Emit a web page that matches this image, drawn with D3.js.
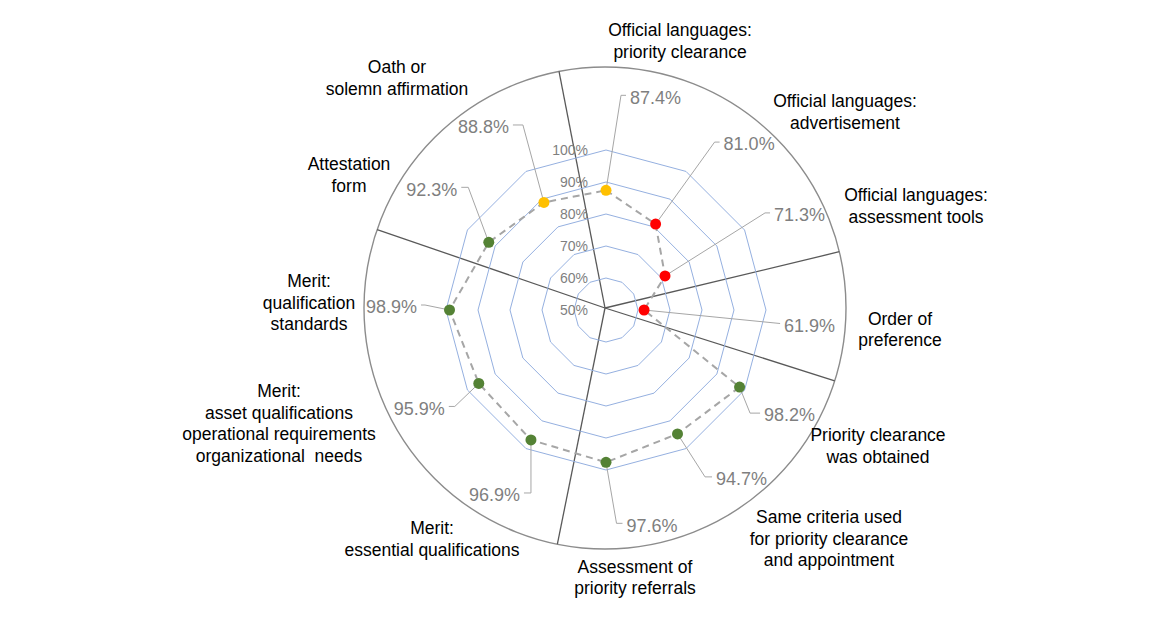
<!DOCTYPE html>
<html><head><meta charset="utf-8">
<script src="https://cdn.jsdelivr.net/npm/d3@7"></script>
<style>body{margin:0;background:#fff} svg{display:block}</style>
</head><body>
<svg id="chart" width="1170" height="620"></svg>
<script>
// ---- data ----
const categories = [
  ["Official languages:", "priority clearance"],
  ["Official languages:", "advertisement"],
  ["Official languages:", "assessment tools"],
  ["Order of", "preference"],
  ["Priority clearance", "was obtained"],
  ["Same criteria used", "for priority clearance", "and appointment"],
  ["Assessment of", "priority referrals"],
  ["Merit:", "essential qualifications"],
  ["Merit:", "asset qualifications", "operational requirements", "organizational  needs"],
  ["Merit:", "qualification", "standards"],
  ["Attestation", "form"],
  ["Oath or", "solemn affirmation"]
];
const values = [87.4, 81.0, 71.3, 61.9, 98.2, 94.7, 97.6, 96.9, 95.9, 98.9, 92.3, 88.8];
const statuses = ["mid", "low", "low", "low", "high", "high", "high", "high", "high", "high", "high", "mid"];
const tickValues = [50, 60, 70, 80, 90, 100];
const tickLabels = ["50%", "60%", "70%", "80%", "90%", "100%"];
const sectionBoundaries = [-11, 76.5, 107.6, 191.4, 289]; // degrees, clockwise from north

// ---- layout (positions / styles) ----
const W = 1170, H = 620;
const cx = 606, cy = 310;
const pieCx = 605, pieCy = 308, pieR = 241;
const statusColor = {high: "#548235", mid: "#FFC000", low: "#FF0000"};
// leader elbow offset from point [dx, dy, tail]
const valueLabelLayout = [
  [15, -95, 5], [59, -82, 5], [100, -63, 5], [136, 13.5, 0],
  [10.5, 26, 10], [27.5, 43, 7], [10.5, 61, 6], [0, 53, -7],
  [-24, 23, -6], [-24.5, -5, -4], [-20.5, -55, -7], [-21, -77.5, -10]
];
const valueLabelSide = [1, 1, 1, 1, 1, 1, 1, -1, -1, -1, -1, -1];
// category label first-line centre, offset from chart centre
const catLabelLayout = [
  [74, -280], [239, -209], [310, -115], [294, 8.5], [272, 125], [223, 207],
  [29, 256.7], [-174, 218], [-327, 81], [-297, -29], [-257, -146], [-209, -243]
];
const lineH = 21.5;

const svg = d3.select("#chart");
const font = "Arial, 'Liberation Sans', sans-serif";

const r = d3.scaleLinear().domain([50, 100]).range([0, 160]);
const angle = d3.scaleLinear().domain([0, categories.length]).range([0, 2 * Math.PI]);

// pie outline and separators
const pie = svg.append("g").attr("transform", `translate(${pieCx},${pieCy})`);
pie.append("circle").attr("r", pieR).attr("fill", "none").attr("stroke", "#8C8C8C").attr("stroke-width", 1.4);
pie.selectAll("line.sep").data(sectionBoundaries).join("line")
  .attr("class", "sep")
  .attr("x1", 0).attr("y1", 0)
  .attr("x2", d => d3.pointRadial(d * Math.PI / 180, pieR)[0])
  .attr("y2", d => d3.pointRadial(d * Math.PI / 180, pieR)[1])
  .attr("stroke", "#595959").attr("stroke-width", 1.3);

const g = svg.append("g").attr("transform", `translate(${cx},${cy})`);

// grid rings
const ringLine = d3.lineRadial().angle((d, i) => angle(i)).radius(d => r(d)).curve(d3.curveLinearClosed);
g.selectAll("path.ring").data(tickValues.filter(v => v > 50)).join("path")
  .attr("class", "ring")
  .attr("d", v => ringLine(categories.map(() => v)))
  .attr("fill", "none").attr("stroke", "#95B0E0").attr("stroke-width", 1);

// tick labels
g.selectAll("text.tick").data(tickValues).join("text")
  .attr("class", "tick")
  .attr("x", -18).attr("y", v => -r(v)).attr("dy", "0.35em")
  .attr("text-anchor", "end")
  .attr("font-family", font).attr("font-size", 14).attr("fill", "#7F7F7F")
  .text((v, i) => tickLabels[i]);

// data line
const dataLine = d3.lineRadial().angle((d, i) => angle(i)).radius(d => r(d)).curve(d3.curveLinearClosed);
g.append("path").attr("d", dataLine(values))
  .attr("fill", "none").attr("stroke", "#A6A6A6").attr("stroke-width", 2).attr("stroke-dasharray", "7,5");

const pts = values.map((v, i) => d3.pointRadial(angle(i), r(v)));

// leader lines
g.selectAll("polyline.leader").data(values).join("polyline")
  .attr("class", "leader")
  .attr("points", (v, i) => {
    const [px, py] = pts[i];
    const [dx, dy, tail] = valueLabelLayout[i];
    const ex = px + dx, ey = py + dy;
    return `${px},${py} ${ex},${ey} ${ex + tail},${ey}`;
  })
  .attr("fill", "none").attr("stroke", "#A6A6A6").attr("stroke-width", 1);

// markers
g.selectAll("circle.pt").data(values).join("circle")
  .attr("class", "pt")
  .attr("cx", (v, i) => pts[i][0]).attr("cy", (v, i) => pts[i][1])
  .attr("r", 5.5).attr("fill", (v, i) => statusColor[statuses[i]]);

// value labels
g.selectAll("text.val").data(values).join("text")
  .attr("class", "val")
  .attr("x", (v, i) => pts[i][0] + valueLabelLayout[i][0] + valueLabelLayout[i][2] + valueLabelSide[i] * 4)
  .attr("y", (v, i) => pts[i][1] + valueLabelLayout[i][1] + 2)
  .attr("dy", "0.35em")
  .attr("text-anchor", (v, i) => valueLabelSide[i] > 0 ? "start" : "end")
  .attr("font-family", font).attr("font-size", 18).attr("fill", "#7F7F7F")
  .text(v => v.toFixed(1) + "%");

// category labels
const cat = g.selectAll("text.cat").data(categories).join("text")
  .attr("class", "cat")
  .attr("text-anchor", "middle")
  .attr("font-family", font).attr("font-size", 17.5).attr("fill", "#000")
  .attr("transform", (d, i) => `translate(${catLabelLayout[i][0]},${catLabelLayout[i][1]})`);
cat.selectAll("tspan").data(d => d).join("tspan")
  .attr("x", 0).attr("y", (d, j) => j * lineH).attr("dy", "0.35em")
  .style("white-space", "pre")
  .text(d => d);
</script>
</body></html>
